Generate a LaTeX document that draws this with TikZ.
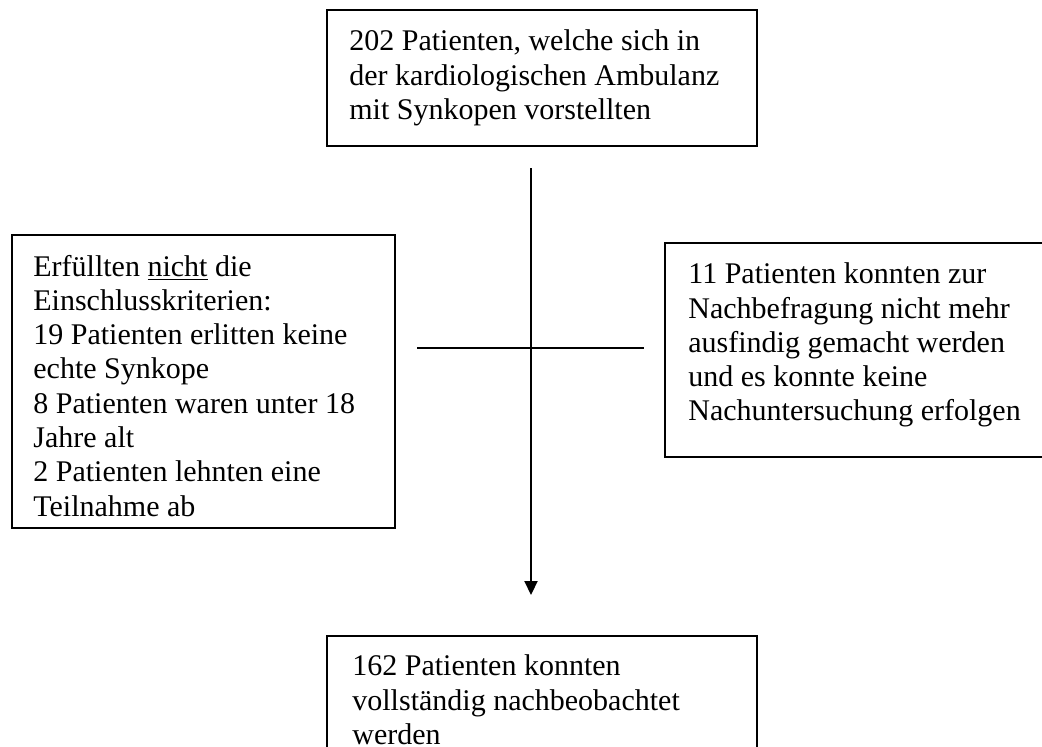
\documentclass[tikz,border=0pt]{standalone}
\usepackage{fontspec}
\setmainfont{Liberation Serif}
\usetikzlibrary{arrows.meta}
\tikzset{
  boxframe/.style={draw=black, line width=1pt, fill=none},
  boxtext/.style={anchor=north west, inner sep=0pt, align=left,
    font=\fontsize{15}{17.15}\selectfont},
  conn/.style={draw=black, line width=1pt}
}
\begin{document}
\begin{tikzpicture}[x=0.5pt,y=-0.5pt]
\clip (0,0) rectangle (1042,746);
\fill[white] (0,0) rectangle (1042,746);
% boxes
\draw[boxframe] (327,10) rectangle (757,146);
\node[boxtext] (ttop) at (349,29.5) {202 Patienten, welche sich in\\der kardiologischen Ambulanz\\mit Synkopen vorstellten};
\draw[boxframe] (12,235) rectangle (395,528);
\node[boxtext] (tleft) at (33,254.5) {Erfüllten \underline{nicht} die\\Einschlusskriterien:\\19 Patienten erlitten keine\\echte Synkope\\8 Patienten waren unter 18\\Jahre alt\\2 Patienten lehnten eine\\Teilnahme ab};
\draw[boxframe] (665,243) rectangle (1060,457);
\node[boxtext] (tright) at (688,262.5) {11 Patienten konnten zur\\Nachbefragung nicht mehr\\ausfindig gemacht werden\\und es konnte keine\\Nachuntersuchung erfolgen};
\draw[boxframe] (327,636) rectangle (757,770);
\node[boxtext] (tbot) at (352,654.5) {162 Patienten konnten\\vollständig nachbeobachtet\\werden};
% connectors
\coordinate (vtop) at (531,168);
\coordinate (vend) at (531,595);
\coordinate (hl) at (417,348);
\coordinate (hr) at (644,348);
\draw[conn, -{Triangle[width=6.5pt,length=7pt]}] (vtop) -- (vend);
\draw[conn] (hl) -- (hr);
\end{tikzpicture}
\end{document}
